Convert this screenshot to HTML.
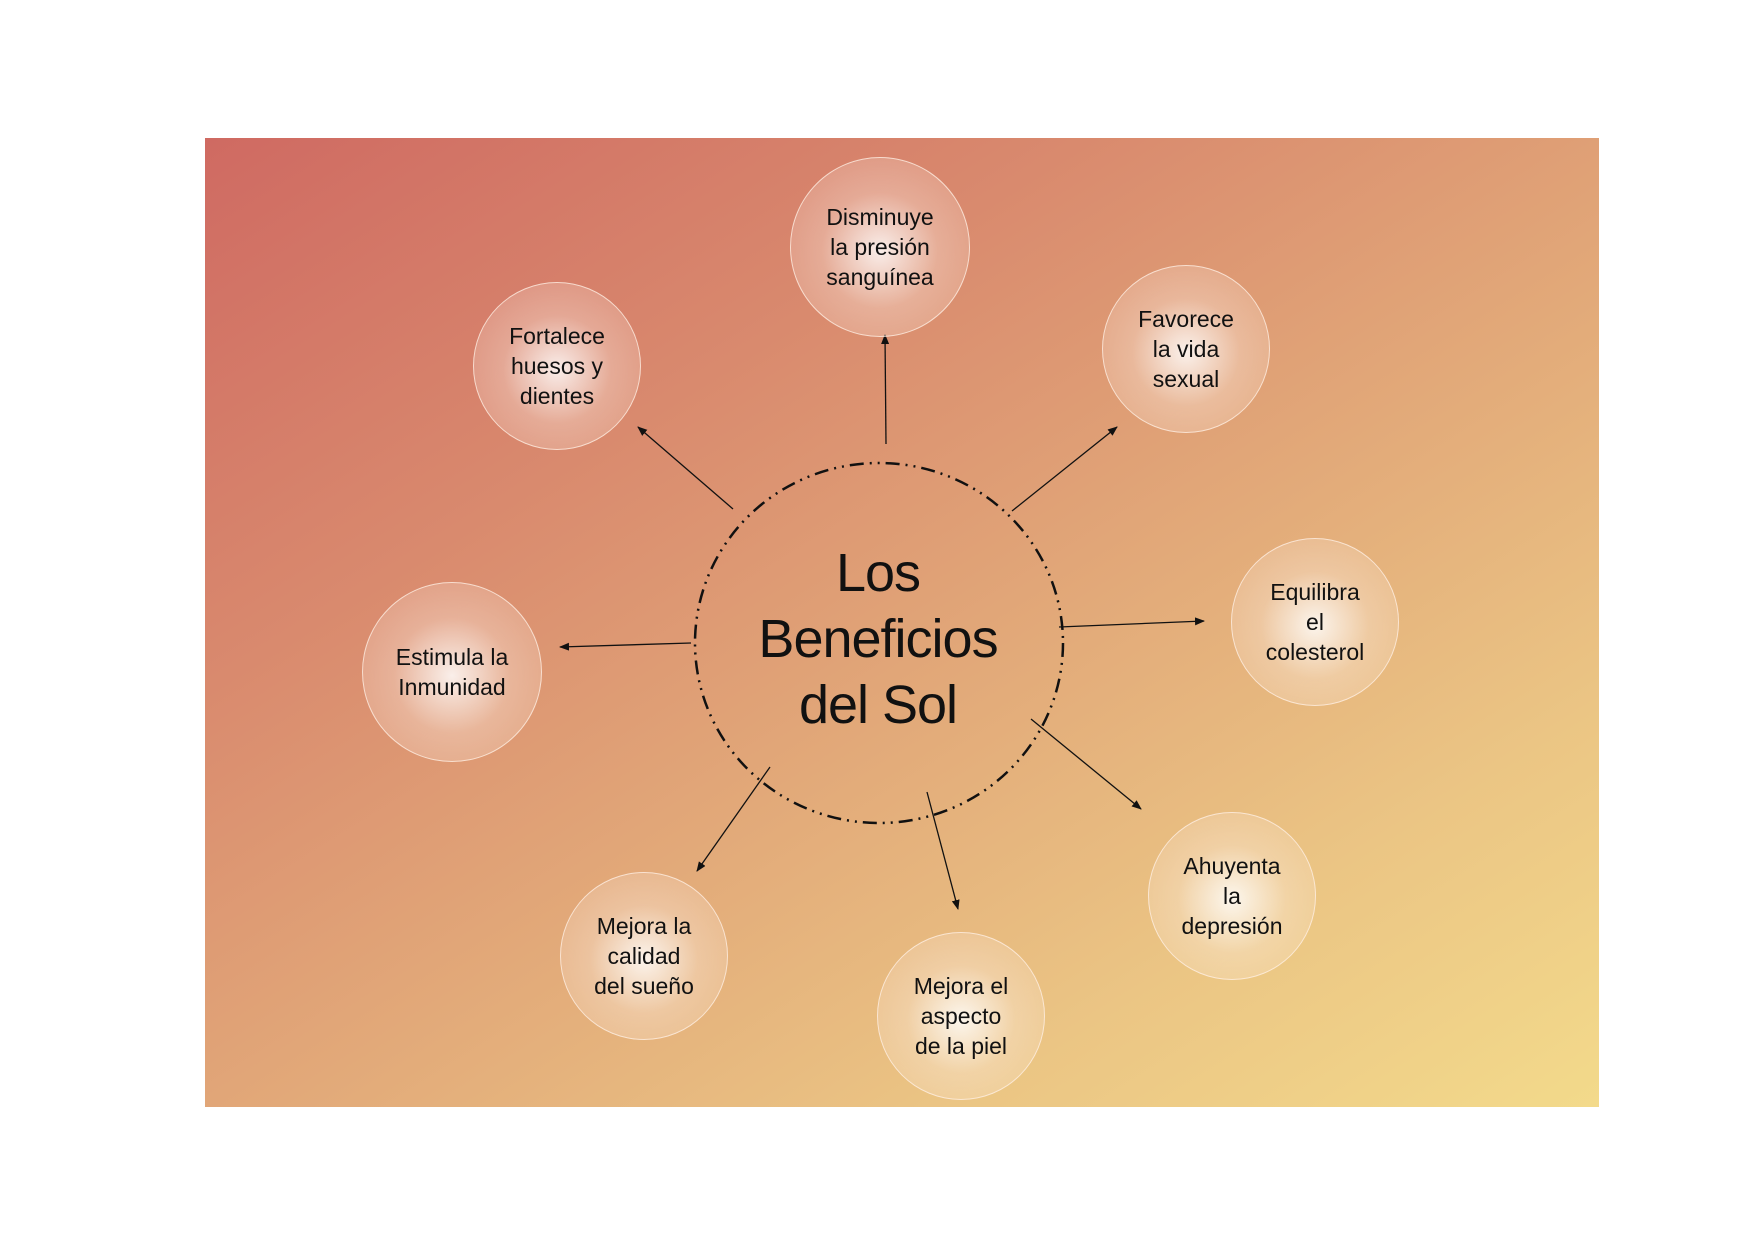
<!DOCTYPE html>
<html><head><meta charset="utf-8"><style>
html,body{margin:0;padding:0;background:#fff;}
body{width:1753px;height:1240px;position:relative;overflow:hidden;font-family:"Liberation Sans","DejaVu Sans",sans-serif;}
#bg{position:absolute;left:205px;top:138px;width:1394px;height:969px;background:linear-gradient(148deg,#cf6a62 0%,#d98a6e 30%,#e2a979 55%,#ebc584 78%,#f3da8b 100%);}
.n{position:absolute;border-radius:50%;border:1.5px solid rgba(255,240,230,0.75);background:radial-gradient(circle at 50% 52%,rgba(255,255,255,0.85) 0%,rgba(255,240,230,0.35) 45%,rgba(255,230,215,0.12) 100%);display:flex;align-items:center;justify-content:center;text-align:center;font-size:23px;line-height:30px;color:#111;box-sizing:border-box;}
#t{position:absolute;left:693px;top:540px;width:370px;text-align:center;font-size:54px;line-height:66px;color:#111;letter-spacing:-1px;}
svg{position:absolute;left:0;top:0;}
</style></head><body>
<div id="bg"></div>
<svg width="1753" height="1240">
<defs><marker id="a" markerWidth="10" markerHeight="8" refX="9" refY="4" orient="auto" markerUnits="userSpaceOnUse"><path d="M0,0 L10,4 L0,8z" fill="#111"/></marker></defs>
<ellipse cx="879" cy="643" rx="184" ry="180" fill="none" stroke="#111" stroke-width="2.5" stroke-dasharray="14,6,2,6,2,6"/>
<g stroke="#111" stroke-width="1.3" marker-end="url(#a)">
<line x1="886" y1="444" x2="885" y2="335"/>
<line x1="733" y1="509" x2="638" y2="427"/>
<line x1="1012" y1="511" x2="1117" y2="427"/>
<line x1="1059" y1="627" x2="1204" y2="621"/>
<line x1="691" y1="643" x2="560" y2="647"/>
<line x1="1031" y1="719" x2="1141" y2="809"/>
<line x1="927" y1="792" x2="958" y2="909"/>
<line x1="770" y1="767" x2="697" y2="871"/>
</g>
</svg>
<div class="n" style="left:790px;top:157px;width:180px;height:180px;">Disminuye<br>la presión<br>sanguínea</div>
<div class="n" style="left:473px;top:282px;width:168px;height:168px;">Fortalece<br>huesos y<br>dientes</div>
<div class="n" style="left:1102px;top:265px;width:168px;height:168px;">Favorece<br>la vida<br>sexual</div>
<div class="n" style="left:1231px;top:538px;width:168px;height:168px;">Equilibra<br>el<br>colesterol</div>
<div class="n" style="left:362px;top:582px;width:180px;height:180px;">Estimula la<br>Inmunidad</div>
<div class="n" style="left:1148px;top:812px;width:168px;height:168px;">Ahuyenta<br>la<br>depresión</div>
<div class="n" style="left:877px;top:932px;width:168px;height:168px;">Mejora el<br>aspecto<br>de la piel</div>
<div class="n" style="left:560px;top:872px;width:168px;height:168px;">Mejora la<br>calidad<br>del sueño</div>
<div id="t">Los<br>Beneficios<br>del Sol</div>
</body></html>
